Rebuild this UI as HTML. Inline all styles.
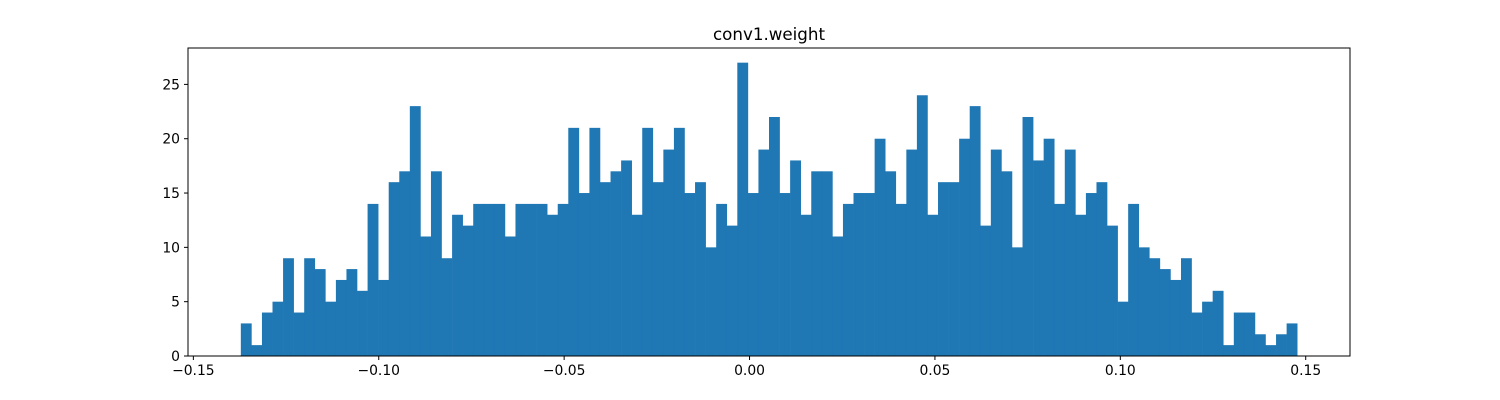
<!DOCTYPE html>
<html><head><meta charset="utf-8"><style>
html,body{margin:0;padding:0;background:#fff;}
svg{display:block;font-family:"DejaVu Sans","Liberation Sans",sans-serif;}
</style></head><body>
<svg id="chart" width="1500" height="400" viewBox="0 0 1500 400">
<rect x="0" y="0" width="1500" height="400" fill="#fff"/>
<text x="769" y="40" font-size="16.7" text-anchor="middle" fill="#000">conv1.weight</text>
<g id="bars"></g>
<g id="axes"></g>
</svg>
<script>
const counts = [3,1,4,5,9,4,9,8,5,7,8,6,14,7,16,17,23,11,17,9,13,12,14,14,14,11,14,14,14,13,14,21,15,21,
16,17,18,13,21,16,19,21,15,16,10,14,12,27,15,19,22,15,18,13,17,17,11,14,15,15,20,17,14,19,24,13,16,
16,20,23,12,19,17,10,22,18,20,14,19,13,15,16,12,5,14,10,9,8,7,9,4,5,6,1,4,4,2,1,2,3];
const binMin = -0.1372;
const binMax = 0.1477;
const xTicks = [-0.15,-0.10,-0.05,0.00,0.05,0.10,0.15];
const xTickLabels = ["\u22120.15","\u22120.10","\u22120.05","0.00","0.05","0.10","0.15"];
const yTicks = [0,5,10,15,20,25];

const L=188,R=1350,T=48,B=356;
const pad=(binMax-binMin)*0.05;
const x0=binMin-pad,x1=binMax+pad;
const yMax=Math.max(...counts)*1.05;
const sx=v=>L+(v-x0)/(x1-x0)*(R-L);
const sy=v=>B-v/yMax*(B-T);
const NS="http://www.w3.org/2000/svg";
const mk=(t,a)=>{const e=document.createElementNS(NS,t);for(const k in a)e.setAttribute(k,a[k]);return e;};
const bars=document.getElementById('bars'),axes=document.getElementById('axes');
const bw=(binMax-binMin)/counts.length;
counts.forEach((c,i)=>{
  const xa=sx(binMin+i*bw),xb=sx(binMin+(i+1)*bw);
  const r=mk('rect',{x:xa,y:sy(c),width:xb-xa+0.3,height:B-sy(c),fill:'#1f77b4'});
  
  
  bars.appendChild(r);
});
const frame=mk('rect',{x:L,y:T,width:R-L,height:B-T,fill:'none',stroke:'#000','stroke-width':1});


axes.appendChild(frame);
xTicks.forEach((v,i)=>{
  const x=sx(v);
  axes.appendChild(mk('line',{x1:x,x2:x,y1:B,y2:B+4,stroke:'#000'}));
  const t=mk('text',{x:x,y:B+19,'font-size':13.9,'text-anchor':'middle',fill:'#000'});
  t.textContent=xTickLabels[i];
  
  
  axes.appendChild(t);
});
yTicks.forEach(v=>{
  const y=sy(v);
  axes.appendChild(mk('line',{x1:L-4,x2:L,y1:y,y2:y,stroke:'#000'}));
  const t=mk('text',{x:L-8,y:y+5,'font-size':13.9,'text-anchor':'end',fill:'#000'});
  t.textContent=String(v);
  
  
  axes.appendChild(t);
});
</script>
</body></html>
